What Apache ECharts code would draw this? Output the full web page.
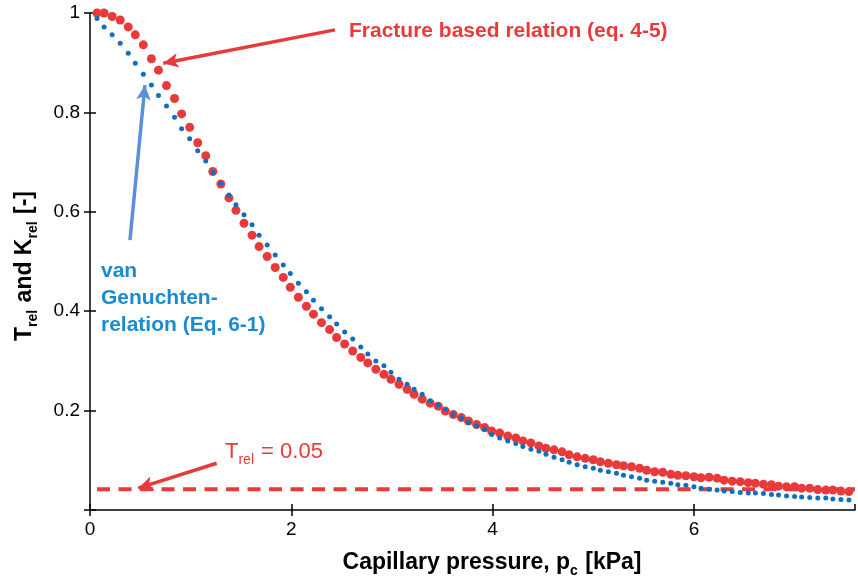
<!DOCTYPE html>
<html>
<head>
<meta charset="utf-8">
<script src="https://cdn.jsdelivr.net/npm/echarts@6/dist/echarts.min.js"></script>
<style>
html, body { margin: 0; padding: 0; background: #fff; }
#chart { width: 858px; height: 583px; }
</style>
</head>
<body>
<div id="chart"></div>
<script>
// capillary pressure [kPa] of every plotted point
var pressure = [
    0.07, 0.14, 0.22, 0.30, 0.38, 0.45, 0.53, 0.61, 0.68, 0.76,
    0.84, 0.91, 0.99, 1.07, 1.15, 1.22, 1.30, 1.38, 1.45, 1.53,
    1.61, 1.68, 1.76, 1.84, 1.92, 1.99, 2.07, 2.15, 2.22, 2.30,
    2.38, 2.45, 2.53, 2.61, 2.69, 2.76, 2.84, 2.92, 2.99, 3.07,
    3.15, 3.22, 3.30, 3.38, 3.46, 3.53, 3.61, 3.69, 3.76, 3.84,
    3.92, 3.99, 4.07, 4.15, 4.23, 4.30, 4.38, 4.46, 4.53, 4.61,
    4.69, 4.76, 4.84, 4.92, 5.00, 5.07, 5.15, 5.23, 5.30, 5.38,
    5.46, 5.53, 5.61, 5.69, 5.77, 5.84, 5.92, 6.00, 6.07, 6.15,
    6.23, 6.30, 6.38, 6.46, 6.54, 6.61, 6.69, 6.77, 6.84, 6.92,
    7.00, 7.07, 7.15, 7.23, 7.31, 7.38, 7.46, 7.54, 7.61
];

// fracture based relation (eq. 4-5), red dots
var fractureRel = [
    1.000, 1.000, 0.993, 0.986, 0.972, 0.956, 0.936, 0.908, 0.885, 0.854,
    0.828, 0.797, 0.770, 0.739, 0.713, 0.681, 0.656, 0.628, 0.603, 0.577,
    0.553, 0.530, 0.510, 0.488, 0.468, 0.448, 0.428, 0.410, 0.394, 0.377,
    0.363, 0.347, 0.334, 0.320, 0.307, 0.296, 0.283, 0.273, 0.263, 0.253,
    0.243, 0.233, 0.223, 0.215, 0.209, 0.199, 0.192, 0.186, 0.179, 0.172,
    0.166, 0.159, 0.155, 0.149, 0.145, 0.139, 0.135, 0.129, 0.124, 0.121,
    0.117, 0.111, 0.107, 0.104, 0.101, 0.097, 0.094, 0.091, 0.089, 0.087,
    0.084, 0.080, 0.077, 0.076, 0.072, 0.070, 0.069, 0.067, 0.065, 0.066,
    0.064, 0.060, 0.058, 0.057, 0.055, 0.054, 0.052, 0.051, 0.048, 0.047,
    0.047, 0.044, 0.044, 0.041, 0.040, 0.040, 0.038, 0.037, 0.037
];

// van Genuchten relation (Eq. 6-1), blue dots
var vanGenuchten = [
    0.989, 0.972, 0.956, 0.939, 0.919, 0.899, 0.877, 0.855, 0.834, 0.813,
    0.790, 0.767, 0.747, 0.723, 0.702, 0.679, 0.657, 0.634, 0.614, 0.594,
    0.574, 0.553, 0.533, 0.513, 0.493, 0.476, 0.456, 0.439, 0.422, 0.405,
    0.389, 0.374, 0.358, 0.344, 0.328, 0.314, 0.300, 0.290, 0.277, 0.263,
    0.253, 0.243, 0.233, 0.220, 0.212, 0.202, 0.192, 0.185, 0.176, 0.169,
    0.162, 0.152, 0.145, 0.139, 0.134, 0.128, 0.122, 0.118, 0.112, 0.106,
    0.101, 0.096, 0.091, 0.087, 0.084, 0.080, 0.077, 0.074, 0.070, 0.067,
    0.064, 0.060, 0.058, 0.056, 0.054, 0.051, 0.050, 0.047, 0.044, 0.042,
    0.040, 0.038, 0.037, 0.035, 0.034, 0.034, 0.033, 0.031, 0.030, 0.028,
    0.027, 0.026, 0.025, 0.024, 0.024, 0.022, 0.021, 0.020, 0.020
];

// threshold line (labelled T_rel = 0.05)
var thresholdLevel = 0.042;
var thresholdRange = [0.07, 7.6];

// annotation arrows: [tail, tip] in data coordinates
var arrowFracture = [[2.434, 0.966], [0.728, 0.899]];
var arrowGenuchten = [[0.397, 0.543], [0.546, 0.855]];
var arrowThreshold = [[1.258, 0.094], [0.480, 0.044]];

var RED = '#e83a3a';
var BLUE = '#0f6fbf';
var FONT = '"Liberation Sans", Arial, sans-serif';

var chart = echarts.init(document.getElementById('chart'));

function zip(xs, ys) {
    var out = [];
    for (var i = 0; i < xs.length; i++) {
        out.push([xs[i], ys[i]]);
    }
    return out;
}

function arrow(pts, color, width) {
    return [
        { coord: pts[0], symbol: 'none', lineStyle: { color: color, width: width, type: 'solid' } },
        { coord: pts[1], symbol: 'arrow', symbolSize: [11, 15], itemStyle: { color: color } }
    ];
}

var tickStyle = { color: '#000', width: 1.5 };

var options = {
    animation: false,
    grid: {
        left: 90,
        right: 3,
        top: 13,
        bottom: 73
    },
    xAxis: [
        {
            type: 'value',
            min: 0,
            max: 7.6,
            interval: 2,
            axisLine: { lineStyle: { color: '#000', width: 1.5 } },
            axisTick: { show: true, length: 6, lineStyle: tickStyle },
            axisLabel: { color: '#000', fontSize: 19, fontFamily: FONT, margin: 10,
                showMaxLabel: false },
            splitLine: { show: false }
        },
        {
            type: 'value',
            position: 'bottom',
            min: 0,
            max: 7.6,
            interval: 2,
            axisLine: { show: false },
            axisTick: { show: true, inside: true, length: 6, lineStyle: tickStyle },
            axisLabel: { show: false },
            splitLine: { show: false }
        }
    ],
    yAxis: [
        {
            type: 'value',
            min: 0,
            max: 1,
            interval: 0.2,
            axisLine: { show: true, lineStyle: { color: '#000', width: 1.5 } },
            axisTick: { show: true, length: 6, lineStyle: tickStyle },
            axisLabel: {
                color: '#000', fontSize: 19, fontFamily: FONT, margin: 10,
                formatter: function (v) { return v === 0 ? '' : String(v); }
            },
            splitLine: { show: false }
        },
        {
            type: 'value',
            position: 'left',
            min: 0,
            max: 1,
            interval: 0.2,
            axisLine: { show: false },
            axisTick: { show: true, inside: true, length: 6, lineStyle: tickStyle },
            axisLabel: { show: false },
            splitLine: { show: false }
        }
    ],
    series: [
        {
            name: 'van Genuchten',
            type: 'scatter',
            symbol: 'circle',
            symbolSize: 5,
            itemStyle: { color: BLUE, opacity: 1 },
            data: zip(pressure, vanGenuchten),
            z: 3
        },
        {
            name: 'Fracture based',
            type: 'scatter',
            symbol: 'circle',
            symbolSize: 9,
            itemStyle: { color: RED, opacity: 1 },
            data: zip(pressure, fractureRel),
            z: 2
        },
        {
            name: 'Threshold',
            type: 'line',
            symbol: 'none',
            data: [[thresholdRange[0], thresholdLevel], [thresholdRange[1], thresholdLevel]],
            lineStyle: { color: RED, width: 4, type: [13, 8.5] },
            z: 1,
            markLine: {
                silent: true,
                symbol: ['none', 'arrow'],
                symbolSize: [11, 15],
                label: { show: false },
                emphasis: { disabled: true },
                data: [
                    arrow(arrowFracture, RED, 3.5),
                    arrow(arrowGenuchten, '#5b8fd6', 3.5),
                    arrow(arrowThreshold, RED, 3.5)
                ]
            }
        }
    ],
    graphic: [
        {
            type: 'text',
            x: 349,
            y: 31,
            style: {
                text: 'Fracture based relation (eq. 4-5)',
                fill: RED,
                font: 'bold 21px ' + FONT,
                verticalAlign: 'middle'
            }
        },
        {
            type: 'text',
            x: 101,
            y: 271,
            style: {
                text: 'van\nGenuchten-\nrelation (Eq. 6-1)',
                fill: '#1a8bd0',
                font: 'bold 21px ' + FONT,
                lineHeight: 27,
                verticalAlign: 'top',
                y: -13
            }
        },
        {
            type: 'text',
            x: 225,
            y: 452,
            style: {
                text: '{m|T}{s|rel}{m| = 0.05}',
                verticalAlign: 'middle',
                rich: {
                    m: { fill: RED, color: RED, fontSize: 22, fontFamily: FONT, lineHeight: 24 },
                    s: { fill: RED, color: RED, fontSize: 14, fontFamily: FONT, lineHeight: 14,
                        verticalAlign: 'bottom', padding: [0, 1, -3, 0] }
                }
            }
        },
        {
            type: 'text',
            x: 492,
            y: 563,
            style: {
                text: '{m|Capillary pressure, p}{s|c}{m| [kPa]}',
                align: 'center',
                verticalAlign: 'middle',
                rich: {
                    m: { fill: '#000', color: '#000', fontSize: 23, fontWeight: 'bold', fontFamily: FONT, lineHeight: 25 },
                    s: { fill: '#000', color: '#000', fontSize: 14, fontWeight: 'bold', fontFamily: FONT, lineHeight: 14,
                        verticalAlign: 'bottom', padding: [0, 1, -3, 0] }
                }
            }
        },
        {
            type: 'text',
            x: 25,
            y: 266,
            rotation: Math.PI / 2,
            style: {
                text: '{m|T}{s|rel}{m| and K}{s|rel}{m| [-]}',
                align: 'center',
                verticalAlign: 'middle',
                rich: {
                    m: { fill: '#000', color: '#000', fontSize: 23, fontWeight: 'bold', fontFamily: FONT, lineHeight: 25 },
                    s: { fill: '#000', color: '#000', fontSize: 14, fontWeight: 'bold', fontFamily: FONT, lineHeight: 14,
                        verticalAlign: 'bottom', padding: [0, 1, -3, 0] }
                }
            }
        }
    ]
};

chart.setOption(options);
</script>
</body>
</html>
